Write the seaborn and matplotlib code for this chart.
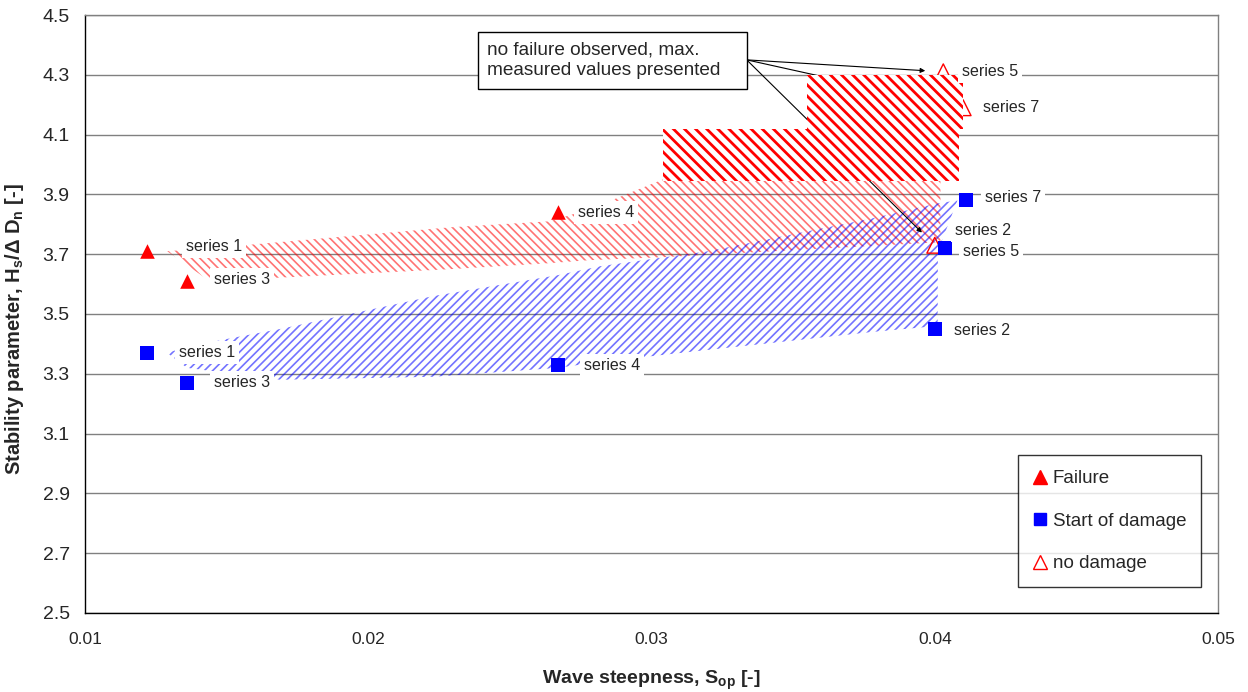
import matplotlib
matplotlib.use('Agg')
import matplotlib.pyplot as plt
from matplotlib.markers import MarkerStyle
from matplotlib.lines import Line2D
from matplotlib.patches import Rectangle
import seaborn as sns
import pandas as pd

# measured points
fail_x = [0.0122, 0.0136, 0.0267]
fail_y = [3.71, 3.61, 3.84]
fail_lbl = ['series 1', 'series 3', 'series 4']

dmg_x = [0.0122, 0.0136, 0.0267, 0.0400, 0.04035, 0.0411]
dmg_y = [3.37, 3.27, 3.33, 3.45, 3.72, 3.88]
dmg_lbl = ['series 1', 'series 3', 'series 4', 'series 2', 'series 5', 'series 7']

nodmg_x = [0.0403, 0.0410, 0.0400]
nodmg_y = [4.31, 4.19, 3.73]
nodmg_lbl = ['series 5', 'series 7', 'series 2']

# shaded envelopes
fail_band_x = [0.0129, 0.0144, 0.0229, 0.0264, 0.0278, 0.0304, 0.0402]
fail_band_lo = [3.71, 3.61, 3.65, 3.67, 3.68, 3.69, 3.74]
fail_band_hi = [3.71, 3.72, 3.79, 3.81, 3.85, 3.95, 3.95]

dmg_band_x = [0.0129, 0.0136, 0.0152, 0.0169, 0.0223, 0.0267, 0.0282, 0.0320, 0.0378, 0.0401, 0.04011, 0.0408]
dmg_band_lo = [3.37, 3.32, 3.30, 3.28, 3.29, 3.32, 3.34, 3.38, 3.44, 3.46, 3.71, 3.88]
dmg_band_hi = [3.37, 3.39, 3.42, 3.45, 3.56, 3.63, 3.66, 3.71, 3.82, 3.87, 3.87, 3.88]

# "no failure" blocks: x from, x to, y from, y to
nofail_x0 = [0.0304, 0.0355]
nofail_x1 = [0.04085, 0.0410]
nofail_lo = [3.945, 4.12]
nofail_hi = [4.12, 4.30]

# label offsets in pixels (dx right, dy down) from the marker
fail_off = [(39, -5), (27, -2), (20, 0)]
dmg_off = [(32, 0), (27, 0), (26, 1), (19, 2), (18, 3), (19, -3)]
nodmg_off = [(19, 0), (20, 0), (20, -15)]

sns.set_style('white')
plt.rcParams['font.family'] = ['Liberation Sans', 'DejaVu Sans']
plt.rcParams['mathtext.fontset'] = 'custom'
plt.rcParams['mathtext.rm'] = 'Liberation Sans'
plt.rcParams['mathtext.bf'] = 'Liberation Sans:bold'
plt.rcParams['mathtext.it'] = 'Liberation Sans:italic'

RED = '#ff0000'
BLUE = '#0000ff'


def hatched(ax, x, lo, hi, color, hatch, hlw, z, face='none'):
    with plt.rc_context({'hatch.linewidth': hlw}):
        pc = ax.fill_between(x, lo, hi, facecolor=face, edgecolor=color, linewidth=0, hatch=hatch, zorder=z)
    if hasattr(pc, 'set_hatch_linewidth'):
        pc.set_hatch_linewidth(hlw)
    return pc


fig = plt.figure(figsize=(12.48, 6.92), dpi=100)
ax = fig.add_axes([0.0681, 0.1142, 0.9079, 0.8641])

hatched(ax, fail_band_x, fail_band_lo, fail_band_hi, (1, 0, 0, 0.55), '\\' * 4, 1.2, 1)
hatched(ax, dmg_band_x, dmg_band_lo, dmg_band_hi, (0, 0, 1, 0.55), '/' * 4, 1.2, 1.1)

# box with arrows to the no-damage points
ax.add_patch(Rectangle((0.02389, 4.252), 0.03336 - 0.02389, 4.443 - 4.252,
                       facecolor='white', edgecolor='black', lw=1, zorder=4))
ax.text(0.02418, 4.348, 'no failure observed, max.\nmeasured values presented', fontsize=13.7,
        ha='left', va='center', linespacing=1.3, zorder=4.1)
for x, y in zip(nodmg_x, nodmg_y):
    ax.annotate('', xy=(x, y), xytext=(0.03336, 4.35), zorder=1.5,
                arrowprops=dict(arrowstyle='-|>', color='black', lw=0.8, shrinkA=0, shrinkB=13,
                                mutation_scale=7))

df_f = pd.DataFrame({'x': fail_x, 'y': fail_y})
df_d = pd.DataFrame({'x': dmg_x, 'y': dmg_y})
df_n = pd.DataFrame({'x': nodmg_x, 'y': nodmg_y})

sns.scatterplot(data=df_n, x='x', y='y', ax=ax, marker=MarkerStyle('^', fillstyle='none'),
                color=RED, s=130, linewidth=1, zorder=1.8)

for x0, x1, lo, hi in zip(nofail_x0, nofail_x1, nofail_lo, nofail_hi):
    hatched(ax, [x0, x1], [lo, lo], [hi, hi], RED, '\\' * 3, 2.0, 2, face='white')

sns.scatterplot(data=df_f, x='x', y='y', ax=ax, marker='^', color=RED, edgecolor=RED,
                s=110, linewidth=0, zorder=3)
sns.scatterplot(data=df_d, x='x', y='y', ax=ax, marker='s', color=BLUE, edgecolor=BLUE,
                s=95, linewidth=0, zorder=3)

for xs, ys, labels, offs in [(fail_x, fail_y, fail_lbl, fail_off),
                              (dmg_x, dmg_y, dmg_lbl, dmg_off),
                              (nodmg_x, nodmg_y, nodmg_lbl, nodmg_off)]:
    for x, y, lbl, (dx, dy) in zip(xs, ys, labels, offs):
        ax.annotate(lbl, (x, y), xytext=(dx * 0.72, -dy * 0.72), textcoords='offset points',
                    ha='left', va='center', fontsize=11.5, zorder=5,
                    bbox=dict(boxstyle='square,pad=0.25', fc='white', ec='none'))

ax.set_xlim(0.01, 0.05)
ax.set_ylim(2.5, 4.5)
ax.set_xticks([0.01, 0.02, 0.03, 0.04, 0.05])
ax.set_xticklabels(['0.01', '0.02', '0.03', '0.04', '0.05'])
ax.set_yticks([2.5 + 0.2 * i for i in range(11)])
ax.set_yticklabels(['%.1f' % (2.5 + 0.2 * i) for i in range(11)])
ax.tick_params(axis='both', direction='out', length=5, width=1, color='black', pad=6)
ax.tick_params(axis='y', labelsize=14)
ax.tick_params(axis='x', labelsize=12.5, pad=9)
ax.yaxis.grid(True, color='#808080', lw=1)
ax.xaxis.grid(False)
ax.set_axisbelow(True)
for side in ['left', 'bottom']:
    ax.spines[side].set_color('black')
    ax.spines[side].set_linewidth(1)
for side in ['top', 'right']:
    ax.spines[side].set_color('#808080')
    ax.spines[side].set_linewidth(1)

ax.set_xlabel(r'Wave steepness, S$_\mathbf{op}$ [-]', fontsize=14, fontweight='bold')
ax.set_ylabel('Stability parameter, H$_\\mathbf{s}$/Δ D$_\\mathbf{n}$ [-]', fontsize=14.5, fontweight='bold')
ax.xaxis.set_label_coords(0.5, -0.093)
ax.yaxis.set_label_coords(-0.052, 0.475)

handles = [
    Line2D([], [], ls='none', marker='^', color=RED, mec=RED, ms=10),
    Line2D([], [], ls='none', marker='s', color=BLUE, mec=BLUE, ms=8.5),
    Line2D([], [], ls='none', marker='^', mfc='none', mec=RED, mew=1, ms=10),
]
leg = ax.legend(handles, ['Failure', 'Start of damage', 'no damage'], loc='lower right',
                bbox_to_anchor=(0.985, 0.043), fontsize=13.5, frameon=True, fancybox=False,
                labelspacing=1.35, handlelength=0.8, handletextpad=0.25, borderpad=0.8,
                borderaxespad=0)
leg.get_frame().set_edgecolor('black')
leg.get_frame().set_linewidth(1)
leg.set_zorder(6)

fig.savefig('out.png', dpi=100)
